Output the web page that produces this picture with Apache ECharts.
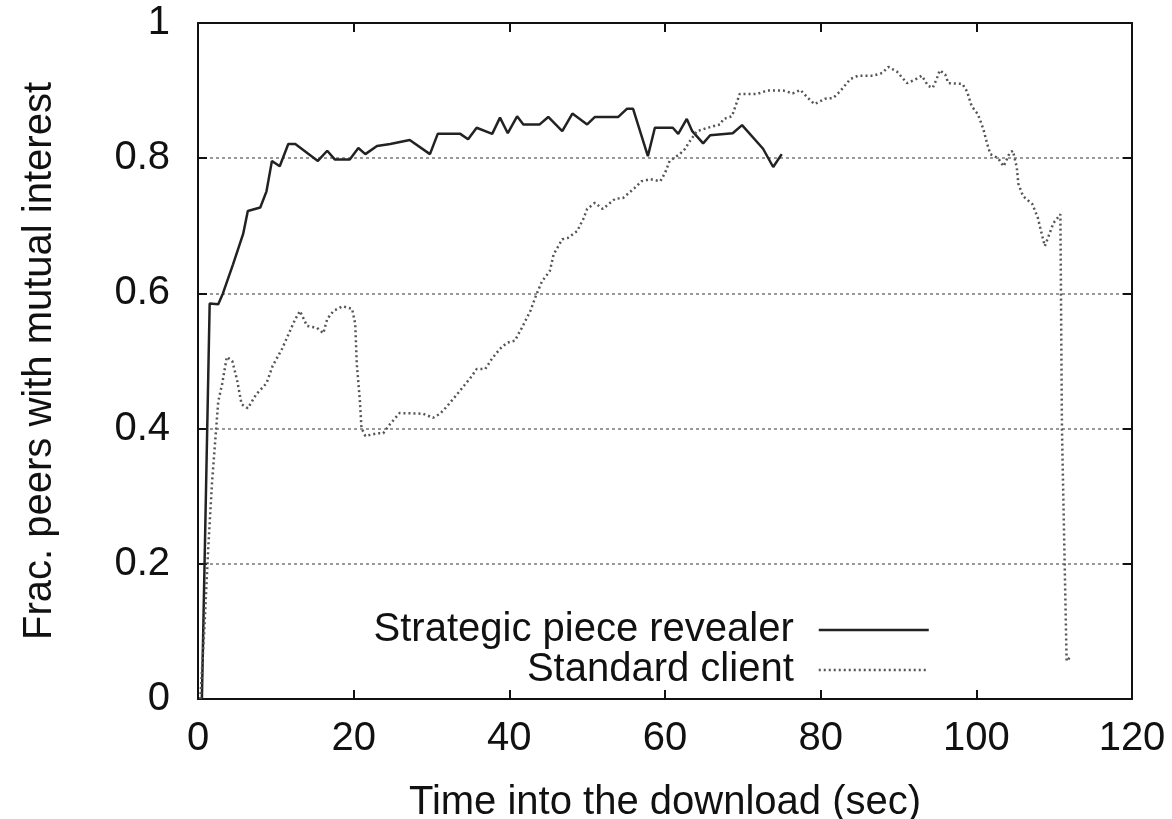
<!DOCTYPE html>
<html>
<head>
<meta charset="utf-8">
<script src="https://cdn.jsdelivr.net/npm/echarts@6/dist/echarts.min.js"></script>
<style>
  html, body { margin: 0; padding: 0; background: #fff; }
  #chart { width: 1172px; height: 819px; }
</style>
</head>
<body>
<div id="chart"></div>
<script>
// strategic piece revealer (solid)
var revealerTime = [0.5, 1.5, 2.6, 3.2, 4.5, 5.8, 6.4, 8.0, 8.8, 9.5, 10.5, 11.6, 12.5, 15.4, 16.6, 17.6, 19.5, 20.6,
  21.5, 23.0, 24.7, 27.2, 29.8, 30.8, 33.7, 34.7, 35.8, 37.8, 38.8, 39.8, 41.0, 41.8, 43.9, 45.0, 46.8, 48.1,
  50.0, 51.0, 54.0, 55.1, 55.9, 57.8, 58.7, 61.0, 61.7, 62.8, 63.5, 64.9, 65.8, 68.7, 69.9, 72.6, 73.9, 75.0];
var revealerFrac = [0, 0.585, 0.584, 0.60, 0.643, 0.688, 0.722, 0.727, 0.751, 0.796, 0.788, 0.821, 0.821, 0.796, 0.811, 0.798, 0.798, 0.815,
  0.806, 0.818, 0.821, 0.827, 0.806, 0.836, 0.836, 0.828, 0.845, 0.836, 0.86, 0.837, 0.862, 0.85, 0.85, 0.861, 0.840, 0.866,
  0.85, 0.861, 0.861, 0.873, 0.873, 0.803, 0.845, 0.845, 0.836, 0.858, 0.840, 0.822, 0.834, 0.837, 0.849, 0.814, 0.787, 0.806];

// standard client (dotted)
var standardTime = [0.3, 0.8, 1.3, 1.8, 2.2, 2.6, 3.1, 3.7, 4.4, 5.0, 5.6, 6.4, 7.5, 8.8, 9.6, 10.8, 11.8, 12.5, 13.1, 14.0,
  15.3, 16.1, 16.6, 17.4, 18.6, 19.8, 20.2, 20.4, 20.8, 21.0, 21.5, 23.0, 23.8, 24.7, 25.9, 28.9, 30.2, 31.1, 32.0, 33.3,
  35.0, 35.8, 36.9, 37.8, 38.8, 39.7, 40.7, 41.6, 42.7, 43.5, 44.2, 45.2, 45.7, 46.8, 47.5, 48.7, 49.5, 50.0, 51.0, 52.0,
  53.6, 54.6, 56.1, 57.0, 58.1, 59.4, 60.0, 60.6, 61.9, 62.6, 63.0, 64.1, 65.5, 67.1, 67.5, 68.6, 69.3, 69.6, 71.8, 73.1,
  75.2, 76.4, 77.4, 78.2, 79.2, 80.6, 81.6, 82.5, 83.8, 84.8, 86.7, 87.9, 88.7, 89.8, 91.1, 92.1, 93.0, 93.8, 94.4, 94.9,
  95.3, 96.0, 96.4, 98.2, 98.8, 99.4, 100.2, 100.9, 101.4, 101.8, 102.8, 103.5, 104.3, 104.7, 105.2, 105.4, 106.0, 107.2,
  107.9, 108.4, 108.8, 109.2, 109.9, 110.8, 111.0, 111.6, 112.2];
var standardFrac = [0, 0.1, 0.22, 0.32, 0.38, 0.44, 0.466, 0.506, 0.50, 0.473, 0.436, 0.43, 0.451, 0.467, 0.493, 0.518, 0.544, 0.562, 0.574, 0.552,
  0.549, 0.541, 0.562, 0.574, 0.581, 0.577, 0.555, 0.496, 0.441, 0.401, 0.389, 0.393, 0.393, 0.407, 0.423, 0.422, 0.416, 0.422, 0.433, 0.451,
  0.475, 0.488, 0.488, 0.504, 0.518, 0.527, 0.53, 0.549, 0.574, 0.599, 0.618, 0.633, 0.658, 0.680, 0.682, 0.692, 0.710, 0.725, 0.734, 0.725,
  0.740, 0.741, 0.756, 0.766, 0.769, 0.766, 0.778, 0.796, 0.806, 0.814, 0.822, 0.840, 0.845, 0.850, 0.858, 0.862, 0.885, 0.895, 0.895, 0.90,
  0.90, 0.896, 0.901, 0.891, 0.880, 0.888, 0.889, 0.899, 0.917, 0.922, 0.922, 0.926, 0.935, 0.928, 0.911, 0.916, 0.922, 0.907, 0.904, 0.917,
  0.930, 0.924, 0.911, 0.910, 0.899, 0.877, 0.865, 0.843, 0.821, 0.806, 0.80, 0.788, 0.808, 0.811, 0.786, 0.762, 0.744, 0.732,
  0.712, 0.688, 0.670, 0.682, 0.704, 0.717, 0.40, 0.056, 0.064];

var xTicks = [0, 20, 40, 60, 80, 100, 120];
var yTicks = [0, 0.2, 0.4, 0.6, 0.8, 1];

function pairs(xs, ys) {
  var out = [];
  for (var i = 0; i < xs.length; i++) out.push([xs[i], ys[i]]);
  return out;
}

var font = "'Liberation Sans', Arial, sans-serif";
var frameTick = { show: true, inside: true, length: 9, lineStyle: { color: "#111", width: 2 } };
var frameLine = { show: true, onZero: false, lineStyle: { color: "#111", width: 2 } };
var legendText = { fontSize: 40, color: "#111", fontFamily: font, padding: [0, 20, 0, 0] };

var myChart = echarts.init(document.getElementById("chart"));
myChart.setOption({
  animation: false,
  textStyle: { fontFamily: font },
  grid: { left: 198, right: 40, top: 23, bottom: 120, containLabel: false, outerBoundsMode: "none" },
  legend: [
    {
      data: ["Strategic piece revealer"],
      right: 237, top: 605, align: "right",
      itemWidth: 110, itemHeight: 16,
      itemStyle: { opacity: 0 },
      lineStyle: { width: 2.5 },
      textStyle: legendText
    },
    {
      data: ["Standard client"],
      right: 237, top: 645, align: "right",
      itemWidth: 110, itemHeight: 16,
      itemStyle: { opacity: 0 },
      lineStyle: { width: 2.5 },
      textStyle: legendText
    }
  ],
  xAxis: [
    {
      type: "value", min: 0, max: 120, interval: 20, position: "bottom",
      name: "Time into the download (sec)", nameLocation: "middle", nameGap: 84,
      nameTextStyle: { fontSize: 40, color: "#111", fontFamily: font },
      axisLine: frameLine,
      axisTick: frameTick,
      axisLabel: { fontSize: 40, color: "#111", margin: 20, fontFamily: font,
        formatter: function (v) { return xTicks.indexOf(v) >= 0 ? String(v) : ""; } },
      splitLine: { show: false }
    },
    {
      type: "value", min: 0, max: 120, interval: 20, position: "top",
      axisLine: frameLine,
      axisTick: frameTick,
      axisLabel: { show: false },
      splitLine: { show: false }
    }
  ],
  yAxis: [
    {
      type: "value", min: 0, max: 1, interval: 0.2, position: "left",
      name: "Frac. peers with mutual interest", nameLocation: "middle", nameGap: 138,
      nameTextStyle: { fontSize: 40, color: "#111", fontFamily: font },
      axisLine: frameLine,
      axisTick: frameTick,
      axisLabel: { fontSize: 40, color: "#111", margin: 28, fontFamily: font,
        formatter: function (v) {
          var r = Math.round(v * 10) / 10;
          return yTicks.indexOf(r) >= 0 ? String(r) : "";
        } },
      splitLine: { show: true, lineStyle: { color: "#999", width: 2, type: [3, 3] } }
    },
    {
      type: "value", min: 0, max: 1, interval: 0.2, position: "right",
      axisLine: frameLine,
      axisTick: frameTick,
      axisLabel: { show: false },
      splitLine: { show: false }
    }
  ],
  series: [
    {
      name: "Strategic piece revealer",
      type: "line",
      symbol: "none",
      data: pairs(revealerTime, revealerFrac),
      lineStyle: { color: "#222", width: 2.5 },
      itemStyle: { color: "#222" }
    },
    {
      name: "Standard client",
      type: "line",
      symbol: "none",
      data: pairs(standardTime, standardFrac),
      lineStyle: { color: "#555", width: 2.5, type: [2, 3] },
      itemStyle: { color: "#555" }
    }
  ]
});
</script>
</body>
</html>
